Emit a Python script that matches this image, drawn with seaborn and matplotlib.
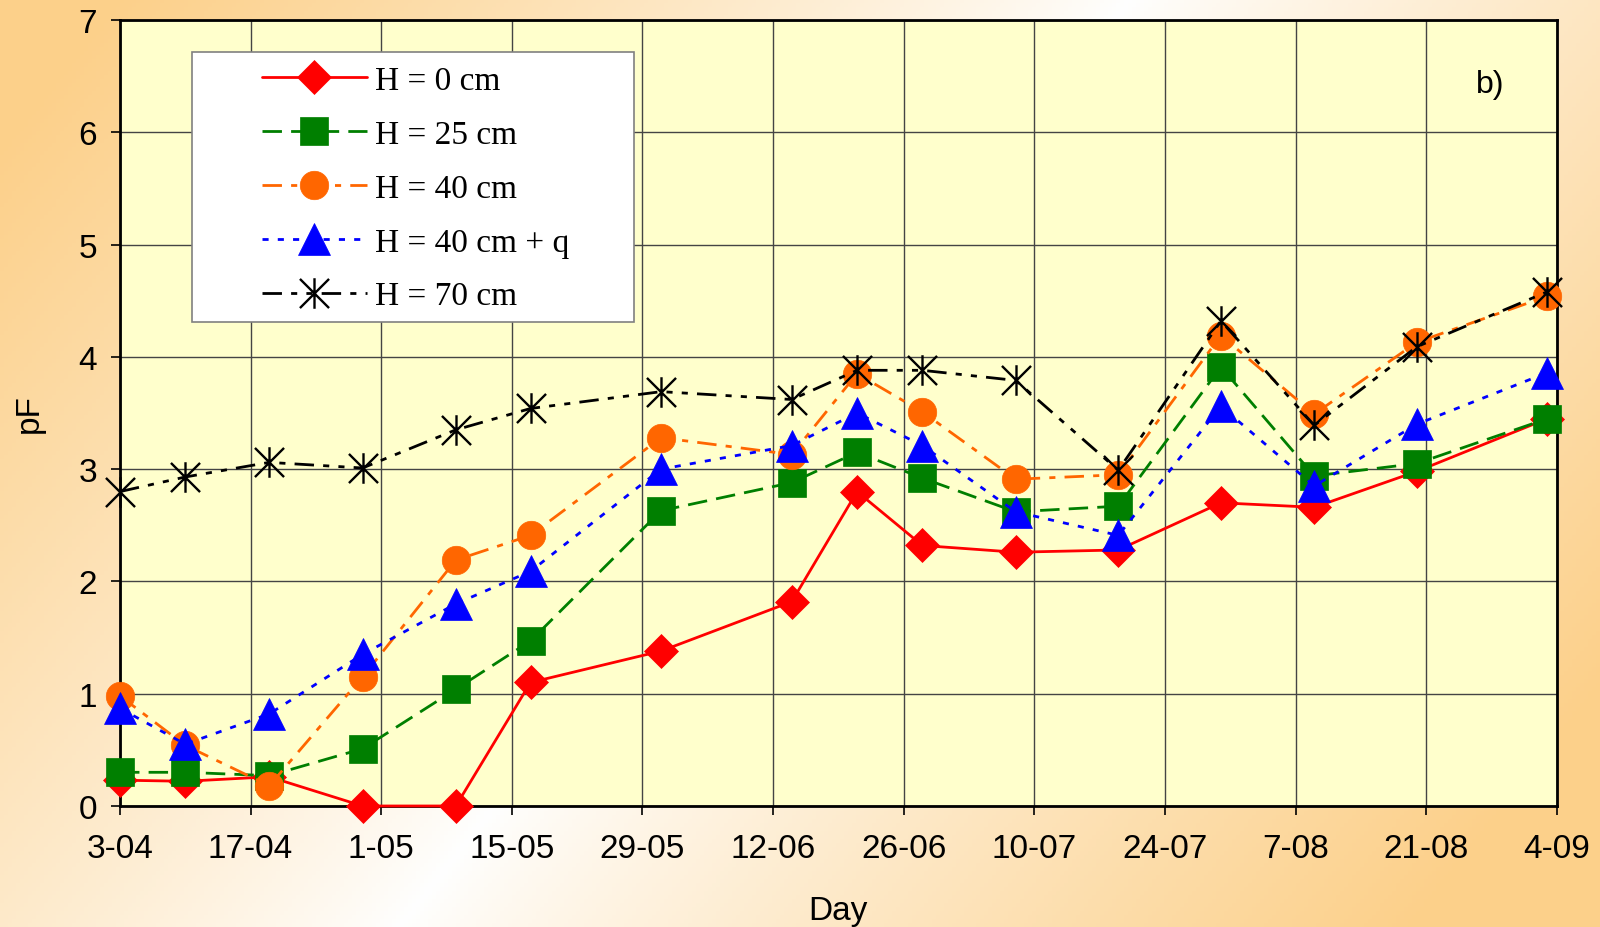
import numpy as np
import pandas as pd
import matplotlib
matplotlib.use("Agg")
import matplotlib.pyplot as plt
from matplotlib.path import Path
from matplotlib.patches import Rectangle
import seaborn as sns

sns.set_theme(style="white")
plt.rcParams['font.family'] = ['Liberation Sans', 'DejaVu Sans']

# sampling days (day-month, season starting 3 April)
dates = ["3-04", "10-04", "19-04", "29-04", "9-05", "17-05", "31-05", "14-06",
         "21-06", "28-06", "8-07", "19-07", "30-07", "9-08", "20-08", "3-09"]
tick_labels = ["3-04", "17-04", "1-05", "15-05", "29-05", "12-06",
               "26-06", "10-07", "24-07", "7-08", "21-08", "4-09"]

h0 = [0.23, 0.22, 0.26, 0.00, 0.00, 1.10, 1.38, 1.82, 2.80, 2.32, 2.26, 2.28, 2.70, 2.66, 2.98, 3.45]
h25 = [0.30, 0.30, 0.27, 0.51, 1.04, 1.47, 2.63, 2.88, 3.15, 2.92, 2.62, 2.67, 3.91, 2.94, 3.05, 3.45]
h40 = [0.98, 0.54, 0.18, 1.15, 2.19, 2.41, 3.28, 3.13, 3.85, 3.51, 2.91, 2.95, 4.19, 3.49, 4.13, 4.54]
h40q = [0.87, 0.55, 0.82, 1.35, 1.80, 2.09, 3.00, 3.21, 3.50, 3.21, 2.62, 2.41, 3.56, 2.85, 3.40, 3.86]
h70 = [2.80, 2.93, 3.06, 3.01, 3.35, 3.54, 3.69, 3.62, 3.88, 3.88, 3.79, 2.99, 4.32, 3.39, 4.09, 4.58]

labels = ["H = 0 cm", "H = 25 cm", "H = 40 cm", "H = 40 cm + q", "H = 70 cm"]


def to_days(strs):
    d = pd.to_datetime([s + "-2003" for s in strs], format="%d-%m-%Y")
    return np.asarray((d - pd.Timestamp("2003-04-03")).days)


x = to_days(dates)
xt = to_days(tick_labels)

# excel-like star marker: X plus a vertical bar
star = Path([(-1, -1), (1, 1), (-1, 1), (1, -1), (0, -1.05), (0, 1.05)],
            [Path.MOVETO, Path.LINETO, Path.MOVETO, Path.LINETO, Path.MOVETO, Path.LINETO])

styles = [
    dict(color="#ff0000", marker="D", markersize=17.5, linestyle="-"),
    dict(color="#007f00", marker="s", markersize=20.5, linestyle=(0, (7, 3.3))),
    dict(color="#ff6600", marker="o", markersize=20.5, linestyle=(0, (7, 3.3, 2.2, 3.3))),
    dict(color="#0000ff", marker="^", markersize=23, linestyle=(0, (2.2, 3.3))),
    dict(color="#000000", marker=star, markersize=22, linestyle=(0, (7, 3.3, 2.2, 3.3, 2.2, 3.3))),
]
series = [h0, h25, h40, h40q, h70]

fig = plt.figure(figsize=(16, 9.28), dpi=100)

# background gradient (white band running diagonally, orange to both sides)
bg = fig.add_axes([0, 0, 1, 1], zorder=-10)
W, H = 400, 232
gx, gy = np.meshgrid(np.linspace(0, 1600, W), np.linspace(0, 928, H))
d = np.abs((gx - 1130) * 0.786 + gy * 0.618) / 800.0
d = np.clip(d, 0, 1) ** 0.85
white = np.array([1.0, 1.0, 1.0])
orange = np.array([252, 208, 138]) / 255.0
img = white[None, None, :] * (1 - d[..., None]) + orange[None, None, :] * d[..., None]
bg.imshow(img, aspect="auto", extent=(0, 1, 0, 1), origin="upper")
bg.axis("off")

ax = fig.add_axes([0.075, 0.1304, 0.898, 0.847])
ax.set_facecolor("#ffffcc")

for vals, lab, st in zip(series, labels, styles):
    mfc = "none" if st["color"] == "#000000" else st["color"]
    sns.lineplot(x=x, y=vals, ax=ax, label=lab, color=st["color"], marker=st["marker"],
                 markersize=st["markersize"], linestyle=st["linestyle"], linewidth=2.0,
                 mec=st["color"], mew=1.7 if mfc == "none" else 0.5, mfc=mfc,
                 clip_on=False, zorder=3)

ax.set_xlim(0, 154)
ax.set_ylim(0, 7)
ax.set_xticks(xt)
ax.set_xticklabels(tick_labels)
ax.set_yticks(range(0, 8))

ax.grid(True, color="#444444", linewidth=1.0)
ax.set_axisbelow(True)
for sp in ax.spines.values():
    sp.set_color("black")
    sp.set_linewidth(2)

ax.tick_params(axis="both", which="major", labelsize=24, direction="out",
               length=6.5, width=1.2, color="black", pad=10,
               bottom=True, left=True, labelcolor="black")
ax.tick_params(axis="x", pad=13)
ax.set_xlabel("Day", fontsize=24, color="black", labelpad=22)
ax.set_ylabel("pF", fontsize=24, color="black", labelpad=24)

ax.text(0.954, 0.919, "b)", transform=ax.transAxes, fontsize=23,
        ha="center", va="center", color="black")

# legend box
ax.add_patch(Rectangle((0.050, 0.616), 0.308, 0.343, transform=ax.transAxes,
                       facecolor="white", edgecolor="#808080", linewidth=1.2, zorder=4))
leg = ax.legend(loc="upper left", bbox_to_anchor=(0.0988, 0.942), frameon=False,
                prop={"family": "Liberation Serif", "size": 24}, handlelength=3.15,
                handletextpad=0.25, labelspacing=0.7, borderpad=0, borderaxespad=0)
leg.set_zorder(5)
for t in leg.get_texts():
    t.set_color("black")

fig.savefig("out.png", dpi=100)
